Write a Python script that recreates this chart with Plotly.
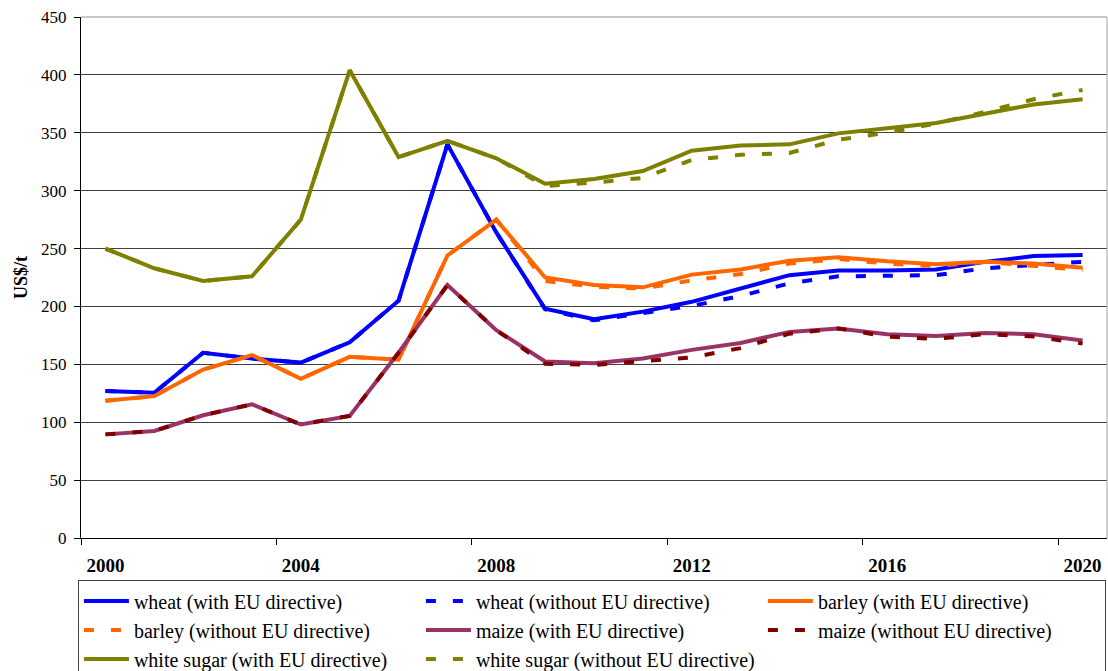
import plotly.graph_objects as go

years = list(range(2000, 2021))
tick_years = [2000, 2004, 2008, 2012, 2016, 2020]

wheat_with = [127, 125.5, 160, 155, 151.5, 169, 205, 340, 264, 198, 189, 195.5, 204, 215.5,
              227, 231, 231, 232, 238.5, 243.5, 244.5]
wheat_without = [127, 125.5, 160, 155, 151.5, 169, 205, 340, 264, 197.5, 188, 194, 200.5, 209,
                 220, 226, 226.5, 227, 233, 236, 238.5]
barley_with = [118.5, 122.5, 145.5, 158, 137.5, 156.5, 154, 244, 275, 225, 218.5, 216.5, 227.5, 232,
               239.5, 242.5, 239, 236.5, 238.5, 237, 233.5]
barley_without = [118.5, 122.5, 145.5, 158, 137.5, 156.5, 154, 244, 275, 222, 217, 215.5, 222.5, 228,
                  237, 241, 237, 235, 238.5, 235, 231.5]
maize_with = [89.5, 92.5, 106, 115.5, 98, 105.5, 160, 218.5, 179.5, 152.5, 151, 155, 162.5, 168.5,
              178, 181, 176, 174.5, 177, 176, 170.5]
maize_without = [89.5, 92.5, 106, 115.5, 98, 105.5, 160, 218.5, 179.5, 150.5, 149.5, 153, 156, 164,
                 176.5, 181, 174, 172, 176, 174, 168]
sugar_with = [250, 233, 222, 226, 275, 404, 329, 343, 328, 306, 310, 317, 334.5, 339,
              340, 349.5, 354, 358.5, 366.5, 374.5, 379]
sugar_without = [250, 233, 222, 226, 275, 404, 329, 343, 328, 304, 307, 311, 326.5, 331,
                 332.5, 344, 350, 358, 368, 379, 387]

series = [
    ("wheat (with EU directive)", wheat_with, "#0000FF", "solid"),
    ("wheat (without EU directive)", wheat_without, "#0000FF", "10px,17px"),
    ("barley (with EU directive)", barley_with, "#FF6600", "solid"),
    ("barley (without EU directive)", barley_without, "#FF6600", "10px,17px"),
    ("maize (with EU directive)", maize_with, "#993366", "solid"),
    ("maize (without EU directive)", maize_without, "#800000", "10px,17px"),
    ("white sugar (with EU directive)", sugar_with, "#808000", "solid"),
    ("white sugar (without EU directive)", sugar_without, "#808000", "10px,17px"),
]

SERIF = "Liberation Serif"

fig = go.Figure()
for name, vals, color, dash in series:
    fig.add_trace(go.Scatter(
        x=years, y=vals, mode="lines",
        name=f"<span style='font-size:20px'>{name}</span>",
        line=dict(color=color, width=4, dash=dash),
    ))

fig.update_layout(
    width=1108, height=671,
    margin=dict(l=81, r=1, t=17, b=133, autoexpand=False),
    paper_bgcolor="white", plot_bgcolor="white",
    font=dict(family=SERIF, color="black"),
    showlegend=True,
    legend=dict(
        orientation="h", x=-0.003, xanchor="left",
        y=-0.0815, yanchor="top",
        font=dict(family=SERIF, size=20, color="black"),
        bordercolor="#404040", borderwidth=1, bgcolor="white",
        entrywidth=282, entrywidthmode="pixels", itemwidth=45,
        traceorder="normal",
    ),
    xaxis=dict(
        range=[1999.5, 2020.5], tickmode="array", tickvals=tick_years,
        ticktext=[f"<b>{y}</b>" for y in tick_years],
        ticks="", showgrid=False, zeroline=False, automargin=False,
        showline=True, linecolor="black", linewidth=1,
        tickfont=dict(family=SERIF, size=19, color="black"),
        ticklabelstandoff=10,
        minor=dict(tick0=2003.5, dtick=4, ticks="outside", ticklen=6,
                   tickcolor="black", tickwidth=1, showgrid=False),
    ),
    yaxis=dict(
        range=[0, 450], tickmode="array", tickvals=list(range(0, 451, 50)),
        ticks="outside", ticklen=6, tickcolor="black", automargin=False,
        showgrid=True, gridcolor="#404040", gridwidth=1, zeroline=False,
        showline=True, linecolor="black", linewidth=1,
        tickfont=dict(family=SERIF, size=17, color="black"),
        ticklabelstandoff=4,
        title=dict(text="<b>US$/t</b>", font=dict(family=SERIF, size=18, color="black"),
                   standoff=8),
    ),
    shapes=[
        dict(type="line", xref="paper", yref="paper", x0=0, x1=1, y0=1, y1=1,
             line=dict(color="#909090", width=1)),
        dict(type="line", xref="paper", yref="paper", x0=1, x1=1, y0=0, y1=1,
             line=dict(color="#a0a0a0", width=1)),
    ],
)

fig.write_html(
    "out.html",
    config={"displayModeBar": False},
    post_script="document.body.style.margin='0';document.body.style.overflow='hidden';",
)
